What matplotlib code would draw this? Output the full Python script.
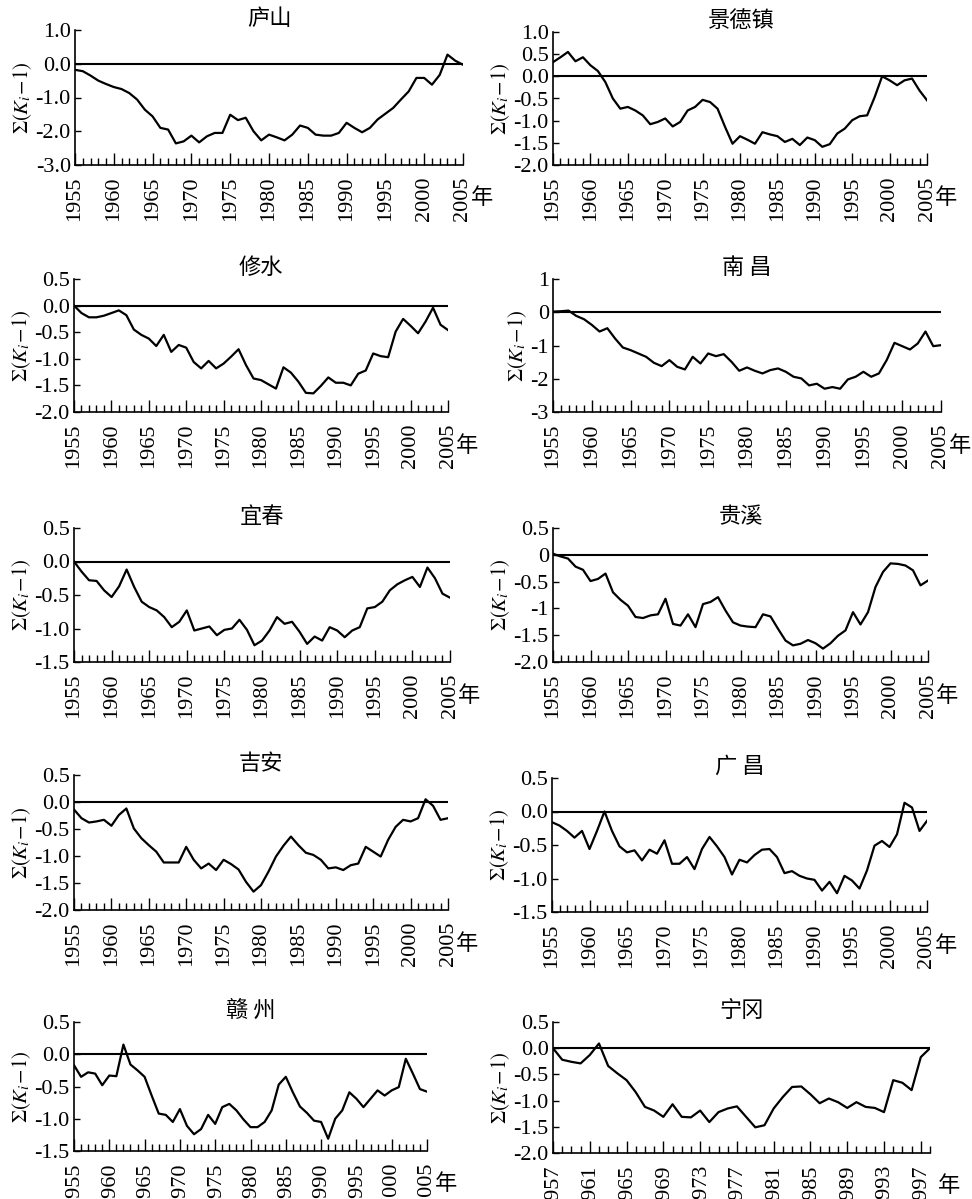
import numpy as np
import matplotlib
matplotlib.use("Agg")
import matplotlib.pyplot as plt
from matplotlib.ticker import MultipleLocator

plt.rcParams['font.family'] = ['Liberation Serif', 'Noto Sans CJK SC']
plt.rcParams['mathtext.fontset'] = 'stix'
plt.rcParams['axes.unicode_minus'] = False

# years for the 9 long stations, and the shorter ningang record
years = np.arange(1955, 2006)
years_ng = np.arange(1957, 1999)

# cumulative modulus ratio sum(Ki-1)
lushan = [-0.18, -0.22, -0.35, -0.50, -0.60, -0.69, -0.75, -0.87, -1.06, -1.36,
          -1.56, -1.90, -1.95, -2.36, -2.30, -2.13, -2.33, -2.15, -2.05, -2.05,
          -1.51, -1.67, -1.60, -2.00, -2.27, -2.10, -2.18, -2.27, -2.10, -1.83,
          -1.90, -2.10, -2.13, -2.13, -2.05, -1.75, -1.90, -2.03, -1.90, -1.65,
          -1.48, -1.31, -1.06, -0.82, -0.42, -0.42, -0.62, -0.33, 0.27, 0.09, -0.03]
jingdezhen = [0.32, 0.43, 0.55, 0.34, 0.43, 0.25, 0.12, -0.13, -0.50, -0.73,
              -0.69, -0.77, -0.88, -1.08, -1.03, -0.95, -1.13, -1.03, -0.77, -0.69,
              -0.53, -0.58, -0.73, -1.14, -1.52, -1.35, -1.43, -1.52, -1.26, -1.31,
              -1.35, -1.48, -1.41, -1.55, -1.38, -1.44, -1.59, -1.53, -1.29, -1.18,
              -0.99, -0.90, -0.88, -0.47, 0.00, -0.09, -0.20, -0.09, -0.05, -0.32, -0.54]
xiushui = [0.00, -0.14, -0.22, -0.22, -0.19, -0.14, -0.09, -0.18, -0.45, -0.55,
           -0.62, -0.76, -0.55, -0.87, -0.74, -0.79, -1.06, -1.18, -1.04, -1.18,
           -1.09, -0.96, -0.82, -1.12, -1.37, -1.40, -1.48, -1.56, -1.16, -1.26,
           -1.43, -1.64, -1.65, -1.51, -1.35, -1.45, -1.45, -1.50, -1.28, -1.22,
           -0.90, -0.95, -0.97, -0.49, -0.25, -0.38, -0.52, -0.30, -0.04, -0.36, -0.46]
nanchang = [0.02, 0.03, 0.05, -0.11, -0.21, -0.38, -0.58, -0.48, -0.79, -1.06,
            -1.14, -1.24, -1.34, -1.52, -1.62, -1.44, -1.64, -1.72, -1.34, -1.54,
            -1.24, -1.32, -1.26, -1.49, -1.76, -1.66, -1.76, -1.84, -1.74, -1.69,
            -1.79, -1.94, -1.99, -2.20, -2.15, -2.30, -2.25, -2.30, -2.02, -1.94,
            -1.79, -1.94, -1.84, -1.44, -0.92, -1.02, -1.12, -0.94, -0.58, -1.02, -0.99]
yichun = [0.00, -0.15, -0.28, -0.29, -0.43, -0.53, -0.37, -0.12, -0.38, -0.60,
          -0.68, -0.73, -0.83, -0.98, -0.90, -0.73, -1.03, -1.00, -0.97, -1.10,
          -1.02, -1.00, -0.87, -1.02, -1.25, -1.18, -1.03, -0.83, -0.93, -0.90,
          -1.05, -1.23, -1.12, -1.18, -0.98, -1.03, -1.13, -1.03, -0.98, -0.70,
          -0.68, -0.60, -0.43, -0.34, -0.28, -0.23, -0.38, -0.09, -0.25, -0.48, -0.54]
guixi = [0.02, -0.03, -0.07, -0.22, -0.28, -0.49, -0.45, -0.35, -0.70, -0.84,
         -0.95, -1.16, -1.18, -1.13, -1.11, -0.82, -1.29, -1.32, -1.11, -1.35,
         -0.92, -0.88, -0.79, -1.04, -1.26, -1.32, -1.34, -1.35, -1.11, -1.15,
         -1.38, -1.60, -1.69, -1.66, -1.59, -1.65, -1.75, -1.65, -1.51, -1.41,
         -1.07, -1.30, -1.07, -0.60, -0.32, -0.16, -0.17, -0.20, -0.29, -0.57, -0.48]
jian = [-0.14, -0.30, -0.38, -0.36, -0.33, -0.44, -0.24, -0.12, -0.49, -0.67,
        -0.80, -0.92, -1.12, -1.12, -1.12, -0.83, -1.07, -1.23, -1.14, -1.26,
        -1.07, -1.15, -1.25, -1.48, -1.66, -1.54, -1.29, -1.01, -0.81, -0.64,
        -0.80, -0.94, -0.98, -1.07, -1.23, -1.21, -1.26, -1.17, -1.14, -0.83,
        -0.92, -1.01, -0.70, -0.46, -0.33, -0.36, -0.30, 0.05, -0.07, -0.33, -0.30]
guangchang = [-0.16, -0.21, -0.29, -0.39, -0.29, -0.56, -0.29, 0.00, -0.29, -0.52,
              -0.61, -0.58, -0.73, -0.57, -0.63, -0.43, -0.78, -0.78, -0.68, -0.86,
              -0.56, -0.38, -0.52, -0.68, -0.94, -0.72, -0.76, -0.65, -0.57, -0.56,
              -0.68, -0.92, -0.89, -0.96, -1.00, -1.02, -1.18, -1.05, -1.22, -0.96,
              -1.03, -1.15, -0.88, -0.51, -0.44, -0.53, -0.34, 0.13, 0.06, -0.29, -0.14]
ganzhou = [-0.17, -0.35, -0.28, -0.30, -0.48, -0.33, -0.34, 0.15, -0.16, -0.25,
           -0.35, -0.64, -0.92, -0.94, -1.05, -0.85, -1.11, -1.24, -1.16, -0.94,
           -1.08, -0.82, -0.77, -0.87, -1.01, -1.13, -1.13, -1.05, -0.87, -0.47,
           -0.35, -0.59, -0.81, -0.91, -1.03, -1.05, -1.31, -1.00, -0.87, -0.59,
           -0.69, -0.82, -0.69, -0.56, -0.64, -0.56, -0.51, -0.07, -0.30, -0.54, -0.58]
ninggang = [0.00, -0.22, -0.26, -0.29, -0.13, 0.09, -0.34, -0.48, -0.61, -0.84,
            -1.12, -1.19, -1.31, -1.07, -1.31, -1.32, -1.19, -1.41, -1.22, -1.15,
            -1.11, -1.31, -1.51, -1.47, -1.15, -0.93, -0.74, -0.73, -0.88, -1.05,
            -0.96, -1.03, -1.14, -1.03, -1.12, -1.14, -1.22, -0.61, -0.66, -0.80,
            -0.17, 0.00]

titles = ['庐山', '景德镇', '修水', '南 昌', '宜春', '贵溪', '吉安', '广 昌', '赣 州', '宁冈']
series = [lushan, jingdezhen, xiushui, nanchang, yichun, guixi, jian, guangchang, ganzhou, ninggang]

# y tick labels as printed on each panel
yticks = [
    ['1.0', '0.0', '-1.0', '-2.0', '-3.0'],
    ['1.0', '0.5', '0.0', '-0.5', '-1.0', '-1.5', '-2.0'],
    ['0.5', '0.0', '-0.5', '-1.0', '-1.5', '-2.0'],
    ['1', '0', '-1', '-2', '-3'],
    ['0.5', '0.0', '-0.5', '-1.0', '-1.5'],
    ['0.5', '0', '-0.5', '-1', '-1.5', '-2.0'],
    ['0.5', '0.0', '-0.5', '-1.0', '-1.5', '-2.0'],
    ['0.5', '0.0', '-0.5', '-1.0', '-1.5'],
    ['0.5', '0.0', '-0.5', '-1.0', '-1.5'],
    ['0.5', '0.0', '-0.5', '-1.0', '-1.5', '-2.0'],
]

# axes boxes in pixels: left, right, top, bottom
boxes = [(75, 463, 30, 165), (553, 927, 32, 165),
         (74, 448, 279, 412), (553, 941, 279, 412),
         (74, 450, 528, 662), (553, 928, 528, 662),
         (74, 448, 775, 910), (552, 927, 778, 912),
         (74, 427, 1022, 1151), (553, 930, 1022, 1153)]

W, H = 972, 1199
fig = plt.figure(figsize=(W / 100, H / 100), dpi=100)

for i in range(10):
    l, r, t, b = boxes[i]
    ax = fig.add_axes([l / W, 1 - b / H, (r - l) / W, (b - t) / H])
    if i == 9:
        x = years_ng
        xmaj = np.arange(1957, 1998, 4)
    else:
        x = years
        xmaj = np.arange(1955, 2006, 5)
    ax.plot(x, series[i], color='black', lw=1.6)
    ax.axhline(0, color='black', lw=1.5)
    ax.set_xlim(x[0], x[-1])

    yv = [float(s) for s in yticks[i]]
    ax.set_ylim(min(yv), max(yv))
    ax.set_yticks(yv)
    ax.set_yticklabels(yticks[i])

    ax.set_xticks(xmaj)
    ax.set_xticklabels([str(v) for v in xmaj], rotation=90)
    ax.xaxis.set_minor_locator(MultipleLocator(1))

    for s in ['top', 'right']:
        ax.spines[s].set_visible(False)
    for s in ['left', 'bottom']:
        ax.spines[s].set_linewidth(1.2)

    ax.tick_params(axis='x', which='major', direction='in', length=9, width=1, labelsize=16, pad=8)
    ax.tick_params(axis='x', which='minor', direction='in', length=5, width=1)
    ax.tick_params(axis='y', which='major', direction='in', length=4, width=1, labelsize=16, pad=3)

    ax.set_ylabel(r'$\Sigma(K_i\!-\!1)$', fontsize=15, labelpad=1)
    ax.set_title(titles[i], fontsize=16, family='Noto Sans CJK SC', pad=2)
    ax.annotate('年', xy=(1, 0), xycoords='axes fraction', xytext=(8, -33),
                textcoords='offset pixels', ha='left', va='center', fontsize=16,
                family='Noto Sans CJK SC')

plt.savefig('out.png', dpi=100)
